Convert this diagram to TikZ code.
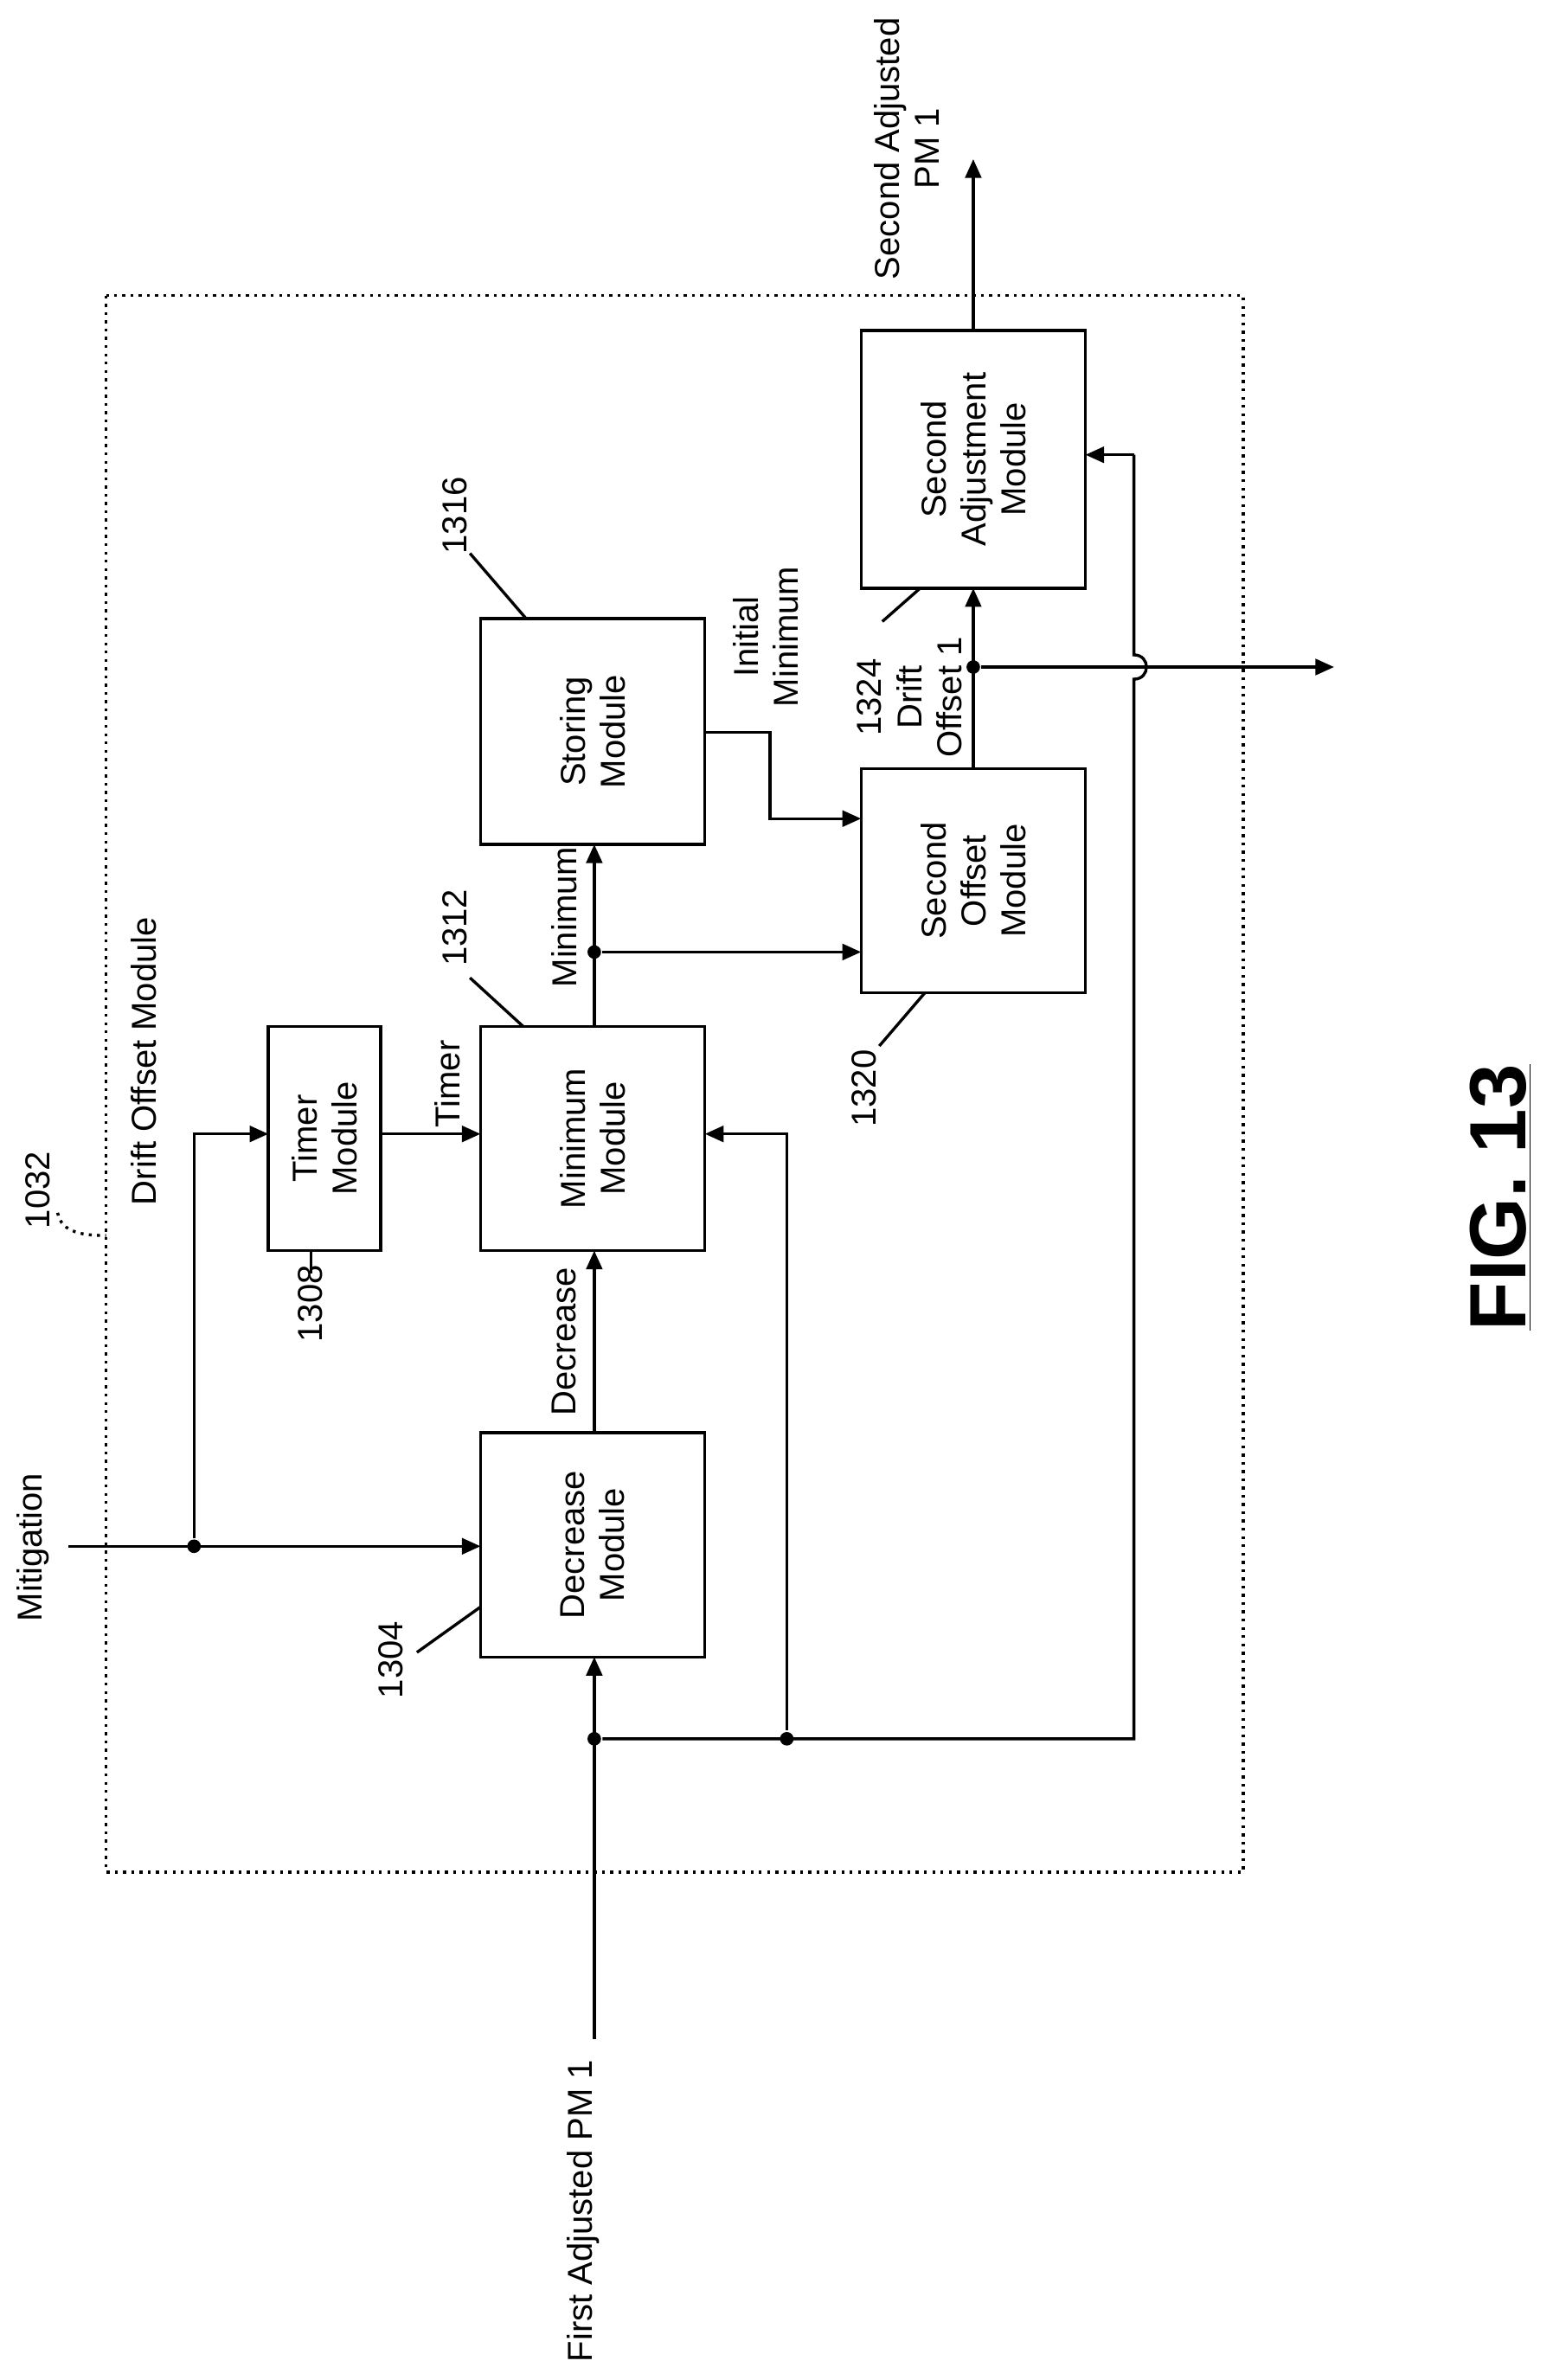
\documentclass[tikz,border=0pt]{standalone}
\usepackage{fontspec}
\setmainfont{Liberation Sans}
\usetikzlibrary{arrows.meta}
\begin{document}
\begin{tikzpicture}[x=0.02cm,y=-0.02cm,line width=1.1pt,
  box/.style={draw},
  lbl/.style={rotate=90,font=\fontsize{13}{15}\selectfont,align=center},
  sig/.style={-{Triangle[length=7pt,width=6pt]}},
  dot/.style={circle,fill,inner sep=1.8pt}]
  \useasboundingbox (0,0) rectangle (1024,1570);
  % frame
  \draw[dotted] (70,195) rectangle (820,1235);
  \node[lbl,anchor=south] (dom) at (110,700) {Drift Offset Module};
  \node[lbl] (n1032) at (25,785) {1032};
  \draw[dotted] (38,800) to[out=-80,in=180] (70,815);
  % blocks
  \draw[box] (317,945) rectangle (465,1093) node[midway,lbl] (dec) {Decrease\\Module};
  \draw[box] (177,677) rectangle (251,825) node[midway,lbl] (tim) {Timer\\Module};
  \draw[box] (317,677) rectangle (465,825) node[midway,lbl] (min) {Minimum\\Module};
  \draw[box] (317,408) rectangle (465,557) node[midway,lbl] (sto) {Storing\\Module};
  \draw[box] (568,507) rectangle (716,655) node[midway,lbl] (off) {Second\\Offset\\Module};
  \draw[box] (568,218) rectangle (716,388) node[midway,lbl] (adj) {Second\\Adjustment\\Module};
  % inputs
  \node[lbl,anchor=east] (mit) at (22,965) {Mitigation};
  \draw[sig] (45,1020) -- (317,1020);
  \node[dot] (j1) at (128,1020) {};
  \draw[sig] (j1) |- (177,748);
  \node[lbl,anchor=east] (pm) at (385,1352) {First Adjusted PM 1};
  \draw[sig] (392,1345) -- (392,1093);
  \node[dot] (j2) at (392,1147) {};
  \node[dot] (j3) at (519,1147) {};
  \draw (j2) -- (748,1147) -- (748,448) .. controls (759,448) and (759,432) .. (748,432) -- (748,300);
  \draw[sig] (748,300) -- (716,300);
  \draw[sig] (j3) |- (465,748);
  % internal signals
  \draw[sig] (392,945) -- (392,825);
  \node[lbl] at (372,885) {Decrease};
  \draw[sig] (251,748) -- (317,748);
  \node[lbl] at (295,715) {Timer};
  \draw[sig] (392,677) -- (392,557);
  \node[lbl] at (372,605) {Minimum};
  \node[dot] (j4) at (392,628) {};
  \draw[sig] (j4) -- (568,628);
  \draw[sig] (465,483) -| (508,540) -- (568,540);
  \node[lbl] at (505,420) {Initial\\Minimum};
  \draw[sig] (642,507) -- (642,388);
  \node[dot] (j5) at (642,440) {};
  \draw[sig] (j5) -- (880,440);
  \node[lbl] at (600,460) {1324\\Drift\\Offset 1};
  \draw[sig] (642,218) -- (642,105);
  \node[lbl] at (598,98) {Second Adjusted\\PM 1};
  % reference numerals
  \node[lbl] (r1304) at (258,1095) {1304};
  \draw (275,1090) -- (317,1060);
  \node[lbl] (r1308) at (205,860) {1308};
  \draw (205,840) -- (205,825);
  \node[lbl] (r1312) at (300,612) {1312};
  \draw (310,645) -- (345,677);
  \node[lbl] (r1316) at (300,340) {1316};
  \draw (310,365) -- (347,408);
  \node[lbl] (r1320) at (570,718) {1320};
  \draw (580,690) -- (610,655);
  \draw (582,410) -- (607,388);
  % figure label
  \node[rotate=90,font=\fontsize{30}{34}\selectfont\bfseries] (fig) at (990,790) {\underline{FIG. 13}};
\end{tikzpicture}
\end{document}
